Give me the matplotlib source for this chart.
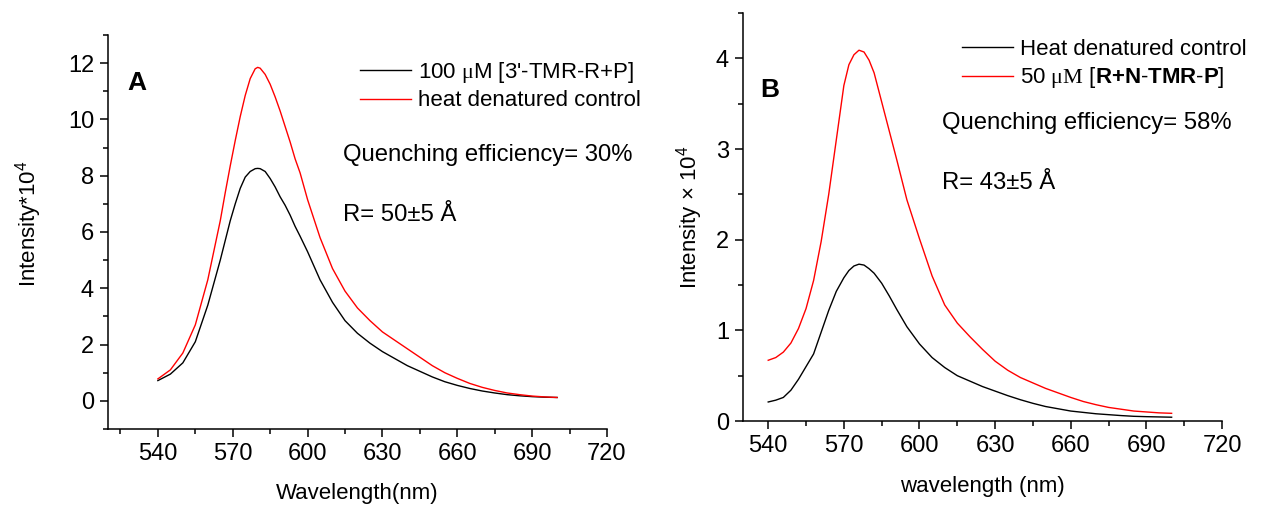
import matplotlib
matplotlib.use('Agg')
import matplotlib.pyplot as plt
from matplotlib.ticker import MultipleLocator

# fonts: Arial-like text, serif for the mu, sans for the superscripts
plt.rcParams['font.family'] = 'Liberation Sans'
plt.rcParams['mathtext.fontset'] = 'custom'
plt.rcParams['mathtext.rm'] = 'Liberation Serif'
plt.rcParams['mathtext.sf'] = 'Liberation Sans'
plt.rcParams['mathtext.bf'] = 'Liberation Sans:bold'

# ---- panel A data (intensity in units of 10^4) ----
wl_a = [540, 545, 550, 555, 560, 565, 567, 569, 571, 573, 575, 577, 579, 580, 581,
        583, 585, 587, 589, 591, 593, 595, 597, 600, 605, 610, 615, 620, 625, 630,
        635, 640, 645, 650, 655, 660, 665, 670, 675, 680, 685, 690, 695, 700]
sample_a = [0.72, 0.95, 1.35, 2.1, 3.4, 5.0, 5.7, 6.4, 7.0, 7.55, 7.95, 8.15, 8.25, 8.26, 8.25,
            8.15, 7.9, 7.6, 7.25, 6.95, 6.6, 6.2, 5.85, 5.3, 4.3, 3.5, 2.85, 2.4, 2.05, 1.75,
            1.5, 1.25, 1.05, 0.85, 0.68, 0.55, 0.44, 0.35, 0.28, 0.22, 0.18, 0.15, 0.13, 0.12]
control_a = [0.78, 1.1, 1.7, 2.7, 4.3, 6.4, 7.4, 8.35, 9.25, 10.1, 10.85, 11.45, 11.8, 11.85, 11.82,
             11.6, 11.25, 10.8, 10.3, 9.75, 9.2, 8.6, 8.1, 7.15, 5.8, 4.7, 3.9, 3.3, 2.85, 2.45,
             2.15, 1.85, 1.55, 1.25, 1.0, 0.8, 0.62, 0.48, 0.37, 0.28, 0.22, 0.17, 0.14, 0.12]

# ---- panel B data ----
wl_b = [540, 543, 546, 549, 552, 555, 558, 561, 564, 567, 570, 572, 574, 576, 578,
        580, 582, 585, 588, 591, 595, 600, 605, 610, 615, 620, 625, 630, 635, 640,
        645, 650, 655, 660, 665, 670, 675, 680, 685, 690, 695, 700]
control_b = [0.21, 0.23, 0.26, 0.34, 0.46, 0.60, 0.74, 0.98, 1.22, 1.43, 1.58, 1.66, 1.71, 1.73, 1.72,
             1.68, 1.63, 1.52, 1.38, 1.23, 1.04, 0.85, 0.70, 0.59, 0.50, 0.44, 0.38, 0.33, 0.28, 0.235,
             0.195, 0.16, 0.135, 0.11, 0.095, 0.08, 0.07, 0.06, 0.052, 0.048, 0.045, 0.042]
sample_b = [0.67, 0.70, 0.76, 0.86, 1.02, 1.24, 1.55, 1.98, 2.5, 3.1, 3.7, 3.93, 4.04, 4.09, 4.07,
            3.98, 3.84, 3.52, 3.2, 2.88, 2.44, 2.01, 1.60, 1.28, 1.08, 0.93, 0.79, 0.66, 0.56, 0.48,
            0.42, 0.36, 0.31, 0.26, 0.215, 0.18, 0.15, 0.13, 0.11, 0.10, 0.09, 0.085]

fig = plt.figure(figsize=(12.69, 5.05), dpi=100)
ax_a = fig.add_axes([0.0851, 0.1505, 0.3932, 0.7802])
ax_b = fig.add_axes([0.5855, 0.1663, 0.3775, 0.8079])


def style_axes(ax):
    # origin-like look: only left and bottom axis, ticks pointing out
    for side in ['top', 'right']:
        ax.spines[side].set_visible(False)
    for side in ['left', 'bottom']:
        ax.spines[side].set_linewidth(1.1)
    ax.tick_params(which='major', direction='out', length=6, width=1.1,
                   labelsize=17, pad=4)
    ax.tick_params(which='minor', direction='out', length=3.5, width=1.1)
    ax.xaxis.set_major_locator(MultipleLocator(30))
    ax.xaxis.set_minor_locator(MultipleLocator(15))


# panel A
ax_a.plot(wl_a, sample_a, color='black', lw=1.0, label='100 $\\mathrm{\\mu}$M [3\'-TMR-R+P]')
ax_a.plot(wl_a, control_a, color='red', lw=1.0, label='heat denatured control')
style_axes(ax_a)
ax_a.set_xlim(520, 720)
ax_a.set_ylim(-1, 13)
ax_a.yaxis.set_major_locator(MultipleLocator(2))
ax_a.yaxis.set_minor_locator(MultipleLocator(1))
ax_a.set_xlabel('Wavelength(nm)', fontsize=16, labelpad=13)
ax_a.set_ylabel('Intensity*10$^\\mathsf{4}$', fontsize=16)
ax_a.yaxis.set_label_coords(-0.128, 0.52)
ax_a.legend(loc='upper left', bbox_to_anchor=(0.505, 0.937), frameon=False,
            fontsize=16, handlelength=2.3, handletextpad=0.33, labelspacing=0.25,
            borderpad=0, borderaxespad=0)
ax_a.text(0.038, 0.878, 'A', transform=ax_a.transAxes, fontsize=19,
          fontweight='bold', va='center')
ax_a.text(0.471, 0.695, 'Quenching efficiency= 30%', transform=ax_a.transAxes,
          fontsize=17.2, va='center')
ax_a.text(0.471, 0.543, 'R= 50±5 Å', transform=ax_a.transAxes,
          fontsize=17.2, va='center')

# panel B
ax_b.plot(wl_b, control_b, color='black', lw=1.0, label='Heat denatured control')
ax_b.plot(wl_b, sample_b, color='red', lw=1.0,
          label='50 $\\mathrm{\\mu M}$ [$\\mathbf{R{+}N}$-$\\mathbf{TMR}$-$\\mathbf{P}$]')
style_axes(ax_b)
ax_b.set_xlim(530, 720)
ax_b.set_ylim(0, 4.5)
ax_b.yaxis.set_major_locator(MultipleLocator(1))
ax_b.yaxis.set_minor_locator(MultipleLocator(0.5))
ax_b.set_xlabel('wavelength (nm)', fontsize=16, labelpad=14)
ax_b.set_ylabel('Intensity × 10$^\\mathsf{4}$', fontsize=16, labelpad=8)
ax_b.legend(loc='upper left', bbox_to_anchor=(0.457, 0.937), frameon=False,
            fontsize=16, handlelength=2.3, handletextpad=0.33, labelspacing=0.25,
            borderpad=0, borderaxespad=0)
ax_b.text(0.035, 0.811, 'B', transform=ax_b.transAxes, fontsize=19,
          fontweight='bold', va='center')
ax_b.text(0.415, 0.730, 'Quenching efficiency= 58%', transform=ax_b.transAxes,
          fontsize=17.2, va='center')
ax_b.text(0.415, 0.583, 'R= 43±5 Å', transform=ax_b.transAxes,
          fontsize=17.2, va='center')

fig.savefig('out.png', dpi=100)
